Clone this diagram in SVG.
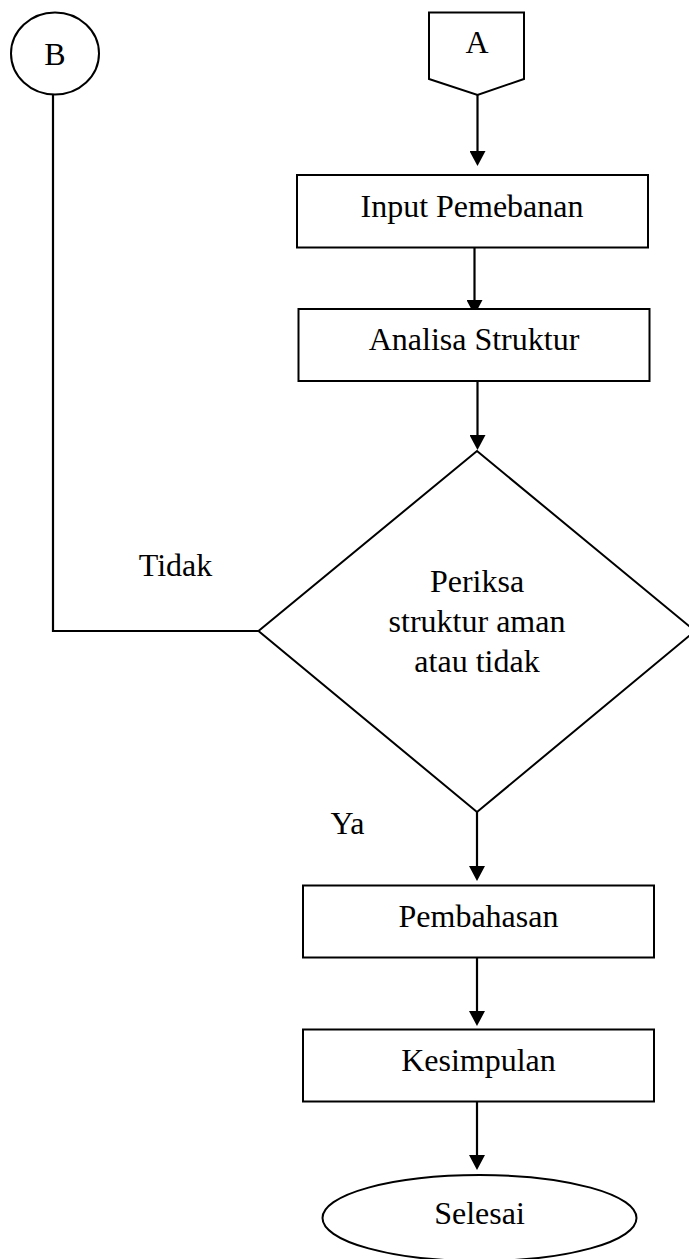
<svg xmlns="http://www.w3.org/2000/svg" width="689" height="1259" viewBox="0 0 689 1259">
<style>
.shape{fill:#fff;stroke:#000;stroke-width:2}
.conn{fill:none;stroke:#000;stroke-width:2.2}
.t{font-family:"Liberation Serif","Times New Roman",serif;font-size:32px;fill:#000;text-anchor:middle}
</style>
<defs>
<marker id="arr" viewBox="0 0 15 16" refX="10" refY="8" markerWidth="15" markerHeight="16" markerUnits="userSpaceOnUse" orient="auto">
<path d="M0,0 L15,8 L0,16 Z" fill="#000"/>
</marker>
</defs>
<rect width="689" height="1259" fill="#fff"/>
<g id="connectors">
<line class="conn" x1="477.5" y1="95" x2="477.5" y2="161" marker-end="url(#arr)"/>
<line class="conn" x1="474.5" y1="248" x2="474.5" y2="310" marker-end="url(#arr)"/>
<line class="conn" x1="477.5" y1="381" x2="477.5" y2="445" marker-end="url(#arr)"/>
<polyline class="conn" points="258.5,631 53,631 53,95"/>
<line class="conn" x1="477" y1="812" x2="477" y2="876" marker-end="url(#arr)"/>
<line class="conn" x1="477" y1="957" x2="477" y2="1021" marker-end="url(#arr)"/>
<line class="conn" x1="477" y1="1102" x2="477" y2="1165" marker-end="url(#arr)"/>
</g>
<g id="nodeB">
<ellipse class="shape" cx="55" cy="53.5" rx="44" ry="41"/>
<text class="t" x="55" y="65">B</text>
</g>
<g id="nodeA">
<polygon class="shape" points="429,12.5 524,12.5 524,79 477.5,95 429,79"/>
<text class="t" x="477" y="53">A</text>
</g>
<g id="input">
<rect class="shape" x="297" y="175" width="351" height="72.5"/>
<text class="t" x="472" y="217">Input Pemebanan</text>
</g>
<g id="analisa">
<rect class="shape" x="298.5" y="309" width="351" height="72"/>
<text class="t" x="474" y="350">Analisa Struktur</text>
</g>
<g id="decision">
<polygon class="shape" points="477,451 695,631 477,812 258.5,631"/>
<text class="t" x="477" y="592">Periksa</text>
<text class="t" x="477" y="632">struktur aman</text>
<text class="t" x="477" y="672">atau tidak</text>
</g>
<text class="t" x="175.5" y="576">Tidak</text>
<text class="t" x="347.5" y="834">Ya</text>
<g id="pembahasan">
<rect class="shape" x="303" y="885.5" width="351" height="72"/>
<text class="t" x="478.5" y="927">Pembahasan</text>
</g>
<g id="kesimpulan">
<rect class="shape" x="303" y="1029.5" width="351" height="72"/>
<text class="t" x="478.5" y="1071">Kesimpulan</text>
</g>
<g id="selesai">
<ellipse class="shape" cx="479.5" cy="1218" rx="157" ry="43"/>
<text class="t" x="479.5" y="1224">Selesai</text>
</g>
</svg>
